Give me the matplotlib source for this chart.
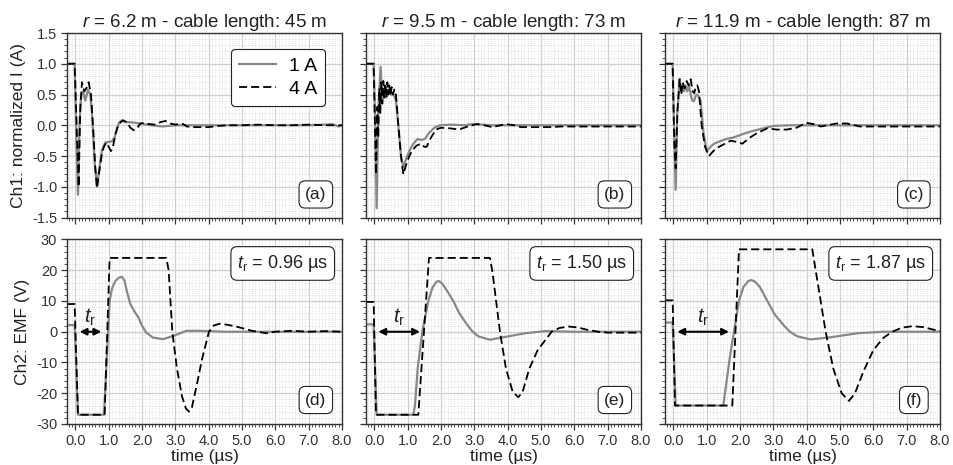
import matplotlib
matplotlib.use("Agg")
import matplotlib.pyplot as plt
from matplotlib.ticker import MultipleLocator, FormatStrFormatter

plt.rcParams['font.family'] = ['Liberation Sans', 'DejaVu Sans']
plt.rcParams['mathtext.fontset'] = 'custom'
plt.rcParams['mathtext.rm'] = 'Liberation Sans'
plt.rcParams['mathtext.it'] = 'Liberation Sans:italic'
plt.rcParams['axes.unicode_minus'] = False

# ---------------- data ----------------
titles = ["$r$ = 6.2 m - cable length: 45 m",
          "$r$ = 9.5 m - cable length: 73 m",
          "$r$ = 11.9 m - cable length: 87 m"]
panel_labels_top = ["(a)", "(b)", "(c)"]
panel_labels_bot = ["(d)", "(e)", "(f)"]
rise_times = ["0.96", "1.50", "1.87"]
legend_labels = ["1 A", "4 A"]

# Ch1 normalized current
a_t1 = [-0.25, -0.02, 0.03, 0.08, 0.13, 0.18, 0.23, 0.30, 0.38, 0.45, 0.50, 0.58, 0.65, 0.72, 0.80, 0.90, 1.00, 1.10, 1.18, 1.25, 1.32, 1.40, 1.50, 1.65, 1.80, 2.0, 2.3, 2.6, 3.0, 3.5, 4.0, 5.0, 6.0, 7.0, 7.5, 7.7, 7.9, 8.0]
a_y1 = [1.0, 1.0, -0.2, -1.13, 0.1, 0.50, 0.55, 0.40, 0.58, 0.50, 0.2, -0.6, -1.0, -0.7, -0.4, -0.28, -0.27, -0.26, -0.2, -0.05, 0.05, 0.08, 0.05, 0.05, 0.04, 0.02, 0.0, -0.02, 0.0, 0.0, 0.0, 0.0, 0.0, 0.0, 0.01, 0.02, -0.02, 0.0]
a_t4 = [-0.25, -0.02, 0.04, 0.10, 0.15, 0.20, 0.27, 0.33, 0.40, 0.47, 0.53, 0.60, 0.65, 0.72, 0.80, 0.86, 0.93, 1.00, 1.07, 1.13, 1.20, 1.30, 1.43, 1.55, 1.65, 1.75, 1.85, 1.95, 2.1, 2.2, 2.4, 2.55, 2.7, 2.85, 3.0, 3.2, 3.35, 3.5, 4.0, 4.3, 4.6, 5.0, 5.5, 6.0, 6.5, 7.0, 7.5, 8.0]
a_y4 = [1.0, 1.0, 0.0, -1.0, 0.3, 0.70, 0.55, 0.60, 0.70, 0.50, 0.0, -0.7, -1.02, -0.75, -0.45, -0.35, -0.28, -0.35, -0.42, -0.35, -0.15, 0.02, 0.08, 0.05, -0.04, -0.08, -0.05, 0.03, 0.04, 0.02, 0.01, 0.05, 0.07, 0.03, 0.01, 0.03, -0.02, -0.03, -0.03, -0.01, 0.0, 0.0, 0.01, 0.0, 0.0, 0.01, 0.0, 0.0]

b_t1 = [-0.25, -0.02, 0.02, 0.07, 0.12, 0.19, 0.24, 0.30, 0.36, 0.42, 0.50, 0.58, 0.65, 0.72, 0.80, 0.87, 0.95, 1.05, 1.15, 1.22, 1.30, 1.40, 1.52, 1.65, 1.80, 1.97, 2.3, 2.7, 3.0, 3.5, 4.0, 5.0, 6.0, 7.0, 8.0]
b_y1 = [1.0, 1.0, 0.2, -1.35, 0.3, 0.95, 0.40, 0.55, 0.45, 0.55, 0.50, 0.50, 0.40, 0.0, -0.5, -0.68, -0.55, -0.42, -0.32, -0.27, -0.22, -0.24, -0.22, -0.12, -0.04, 0.0, 0.01, 0.0, 0.02, 0.0, 0.0, 0.0, 0.0, 0.0, 0.0]
b_t4 = [-0.25, -0.02, 0.05, 0.09, 0.12, 0.15, 0.18, 0.21, 0.24, 0.27, 0.30, 0.33, 0.36, 0.39, 0.42, 0.45, 0.48, 0.52, 0.56, 0.60, 0.65, 0.72, 0.80, 0.87, 0.95, 1.05, 1.15, 1.27, 1.40, 1.50, 1.57, 1.70, 1.85, 2.0, 2.27, 2.54, 2.8, 3.08, 3.3, 3.54, 3.95, 4.2, 4.4, 5.3, 5.6, 6.5, 7.5, 8.0]
b_y4 = [1.0, 1.0, -0.8, 0.3, -0.2, 0.6, 0.2, 0.7, 0.35, 0.72, 0.45, 0.68, 0.45, 0.7, 0.5, 0.65, 0.48, 0.62, 0.5, 0.58, 0.5, 0.0, -0.5, -0.8, -0.65, -0.5, -0.4, -0.33, -0.3, -0.35, -0.35, -0.2, -0.07, -0.04, -0.05, -0.07, -0.02, 0.02, 0.0, -0.03, 0.02, 0.0, -0.03, -0.03, -0.02, -0.02, -0.02, -0.02]

c_t1 = [-0.25, -0.02, 0.02, 0.07, 0.12, 0.19, 0.23, 0.27, 0.32, 0.37, 0.42, 0.47, 0.52, 0.57, 0.62, 0.67, 0.72, 0.77, 0.82, 0.90, 1.0, 1.1, 1.22, 1.4, 1.6, 1.8, 2.1, 2.4, 2.7, 3.0, 3.5, 4.0, 5.0, 6.0, 7.0, 8.0]
c_y1 = [1.0, 1.0, 0.0, -1.05, 0.2, 0.75, 0.55, 0.65, 0.55, 0.65, 0.55, 0.65, 0.5, 0.4, 0.39, 0.48, 0.50, 0.45, 0.4, -0.1, -0.42, -0.36, -0.30, -0.26, -0.22, -0.2, -0.14, -0.09, -0.05, -0.01, 0.0, 0.0, 0.0, 0.0, 0.0, 0.0]
c_t4 = [-0.25, -0.02, 0.03, 0.07, 0.12, 0.19, 0.24, 0.28, 0.34, 0.40, 0.46, 0.52, 0.58, 0.63, 0.67, 0.72, 0.77, 0.85, 0.95, 1.07, 1.2, 1.37, 1.55, 1.72, 1.9, 2.07, 2.3, 2.5, 2.82, 3.1, 3.4, 3.7, 3.98, 4.2, 4.43, 4.9, 5.2, 5.6, 6.5, 7.5, 8.0]
c_y4 = [1.0, 1.0, -0.3, -0.7, 0.2, 0.75, 0.5, 0.7, 0.6, 0.72, 0.65, 0.75, 0.55, 0.52, 0.62, 0.65, 0.55, 0.0, -0.35, -0.5, -0.42, -0.35, -0.3, -0.25, -0.27, -0.3, -0.2, -0.13, -0.05, -0.07, -0.07, -0.04, 0.04, 0.02, -0.02, 0.03, 0.03, -0.02, -0.02, -0.02, -0.02]

# Ch2 EMF (V)
d_t1 = [-0.25, -0.02, 0.08, 0.86, 1.03, 1.10, 1.20, 1.30, 1.40, 1.48, 1.55, 1.65, 1.78, 1.90, 2.00, 2.13, 2.33, 2.63, 2.93, 3.33, 3.7, 4.0, 4.5, 5.0, 6.0, 7.0, 8.0]
d_y1 = [2.2, 2.2, -27, -27, 10, 14, 16.5, 17.5, 17.9, 16.5, 13, 9, 6.5, 4.5, 2.0, -0.3, -1.9, -2.4, -1.4, 0.3, 0.3, 0.2, 0.0, 0.0, 0.0, 0.0, 0.0]
d_t4 = [-0.25, -0.02, 0.08, 0.88, 1.03, 2.73, 2.80, 2.91, 3.05, 3.2, 3.32, 3.41, 3.5, 3.65, 3.8, 4.01, 4.15, 4.33, 4.6, 4.93, 5.3, 5.73, 6.0, 6.5, 7.0, 7.5, 8.0]
d_y4 = [9.0, 9.0, -27, -27, 24, 24, 20, 0, -12, -21, -25, -26, -24.5, -17, -9, 0, 2.0, 2.6, 2.2, 1.4, 0.3, -0.5, 0.0, 0.3, 0.0, 0.2, 0.0]

e_t1 = [-0.25, -0.02, 0.07, 1.17, 1.22, 1.30, 1.44, 1.62, 1.75, 1.87, 1.94, 2.05, 2.2, 2.37, 2.55, 2.77, 2.95, 3.12, 3.47, 3.92, 4.52, 5.12, 6.0, 7.0, 8.0]
e_y1 = [2.4, 2.4, -27, -27, -24, -12, 0, 10, 14.5, 16.3, 16.5, 15.5, 13, 10, 6, 2.5, 0, -1.5, -2.6, -1.7, -0.5, 0.2, 0.0, 0.0, 0.0]
e_t4 = [-0.25, -0.02, 0.05, 1.32, 1.64, 3.47, 3.55, 3.77, 3.95, 4.15, 4.32, 4.45, 4.65, 4.9, 5.32, 5.55, 5.82, 6.1, 6.4, 6.72, 7.0, 7.5, 8.0]
e_y4 = [9.7, 9.7, -27, -27, 24, 24, 19, 0, -12, -19.5, -21.3, -19.5, -12, -6, 0, 1.2, 1.7, 1.4, 0.6, 0.0, -0.3, -0.3, -0.3]

f_t1 = [-0.25, -0.02, 0.07, 1.50, 1.60, 1.70, 1.82, 1.97, 2.1, 2.25, 2.34, 2.45, 2.6, 2.82, 3.05, 3.32, 3.5, 3.72, 4.12, 4.72, 5.52, 6.3, 7.0, 8.0]
f_y1 = [3.0, 3.0, -24, -24, -16, -8, 0, 10, 14.5, 16.5, 16.8, 16.3, 14.5, 10, 5.5, 2, 0, -1.5, -2.5, -1.8, -0.5, 0.0, 0.0, 0.0]
f_t4 = [-0.25, -0.02, 0.05, 1.77, 1.97, 4.17, 4.27, 4.57, 4.8, 5.05, 5.27, 5.45, 5.7, 6.0, 6.3, 6.57, 6.85, 7.17, 7.5, 7.8, 8.0]
f_y4 = [10.2, 10.2, -24, -24, 26.8, 26.8, 20, 0, -12, -20, -22.5, -20, -13, -6, -2, 0, 1.3, 1.8, 1.5, 0.7, 0.2]

# t_r arrows (start, end) in µs
arrow_start = [0.13, 0.12, 0.12]
arrow_end = [0.78, 1.37, 1.67]

top_data = [(a_t1, a_y1, a_t4, a_y4), (b_t1, b_y1, b_t4, b_y4), (c_t1, c_y1, c_t4, c_y4)]
bot_data = [(d_t1, d_y1, d_t4, d_y4), (e_t1, e_y1, e_t4, e_y4), (f_t1, f_y1, f_t4, f_y4)]

# ---------------- figure ----------------
fig, axes = plt.subplots(2, 3, figsize=(9.54, 4.65), dpi=100)
fig.subplots_adjust(left=0.0702, right=0.9853, top=0.929, bottom=0.0882,
                    wspace=0.0873, hspace=0.119)

spine_c = '#333333'
gray_c = '#888888'
txt_c = '#222222'

def style(ax):
    ax.set_xlim(-0.25, 8.0)
    ax.xaxis.set_major_locator(MultipleLocator(1.0))
    ax.xaxis.set_minor_locator(MultipleLocator(0.1))
    ax.xaxis.set_major_formatter(FormatStrFormatter('%.1f'))
    ax.grid(which='major', color='#d0d0d0', lw=0.9, ls='-')
    ax.grid(which='minor', color='#d8d8d8', lw=0.6, ls=':')
    ax.set_axisbelow(True)
    for s in ax.spines.values():
        s.set_color(spine_c)
        s.set_linewidth(1.0)
    ax.tick_params(which='major', length=4, width=0.9, color=spine_c,
                   labelsize=10.5, labelcolor='#333333', pad=3)
    ax.tick_params(which='minor', length=2, width=0.6, color=spine_c)

for j in range(3):
    ax = axes[0, j]
    t1, y1, t4, y4 = top_data[j]
    ax.plot(t1, y1, color=gray_c, lw=1.6, ls='-', label=legend_labels[0])
    ax.plot(t4, y4, color='black', lw=1.3, ls=(0, (4.5, 2.2)), label=legend_labels[1])
    style(ax)
    ax.set_ylim(-1.5, 1.5)
    ax.yaxis.set_major_locator(MultipleLocator(0.5))
    ax.yaxis.set_minor_locator(MultipleLocator(0.1))
    ax.yaxis.set_major_formatter(FormatStrFormatter('%.1f'))
    ax.tick_params(axis='x', labelbottom=False)
    if j > 0:
        ax.tick_params(axis='y', labelleft=False)
    ax.set_title(titles[j], fontsize=13.5, pad=4, color=txt_c)
    ax.text(0.905, 0.125, panel_labels_top[j], transform=ax.transAxes,
            ha='center', va='center', fontsize=12.5, color=txt_c,
            bbox=dict(boxstyle='round,pad=0.35', fc='white', ec=txt_c, lw=0.8))
    if j == 0:
        leg = ax.legend(loc='upper right', fontsize=14, handlelength=1.9,
                        handletextpad=0.7, frameon=True, fancybox=True,
                        borderpad=0.4, labelspacing=0.3,
                        bbox_to_anchor=(0.975, 0.965))
        leg.get_frame().set_edgecolor(txt_c)
        leg.get_frame().set_linewidth(0.8)
        leg.get_frame().set_alpha(1.0)

for j in range(3):
    ax = axes[1, j]
    t1, y1, t4, y4 = bot_data[j]
    ax.plot(t1, y1, color=gray_c, lw=1.6, ls='-')
    ax.plot(t4, y4, color='black', lw=1.3, ls=(0, (4.5, 2.2)))
    style(ax)
    ax.set_ylim(-30, 30)
    ax.yaxis.set_major_locator(MultipleLocator(10))
    ax.yaxis.set_minor_locator(MultipleLocator(2))
    if j > 0:
        ax.tick_params(axis='y', labelleft=False)
    ax.set_xlabel('time (µs)', fontsize=12.5, labelpad=1, color=txt_c)
    ax.text(0.905, 0.13, panel_labels_bot[j], transform=ax.transAxes,
            ha='center', va='center', fontsize=12.5, color=txt_c,
            bbox=dict(boxstyle='round,pad=0.35', fc='white', ec=txt_c, lw=0.8))
    ax.text(0.95, 0.87, r'$t_\mathrm{r}$ = ' + rise_times[j] + ' µs',
            transform=ax.transAxes, ha='right', va='center', fontsize=13,
            color=txt_c,
            bbox=dict(boxstyle='round,pad=0.35', fc='white', ec=txt_c, lw=0.8))
    ax.annotate('', xy=(arrow_end[j], 0), xytext=(arrow_start[j], 0),
                arrowprops=dict(arrowstyle='<|-|>', color='black', lw=1.5,
                                mutation_scale=10, shrinkA=0, shrinkB=0))
    ax.text((arrow_start[j] + arrow_end[j]) / 2, 1.3, r'$t_\mathrm{r}$',
            ha='center', va='bottom', fontsize=14.5, color=txt_c)

axes[0, 0].set_ylabel('Ch1: normalized I (A)', fontsize=12.5, color=txt_c, labelpad=4)
axes[1, 0].set_ylabel('Ch2: EMF (V)', fontsize=12.5, color=txt_c, labelpad=4)

fig.savefig('out.png', dpi=100)
